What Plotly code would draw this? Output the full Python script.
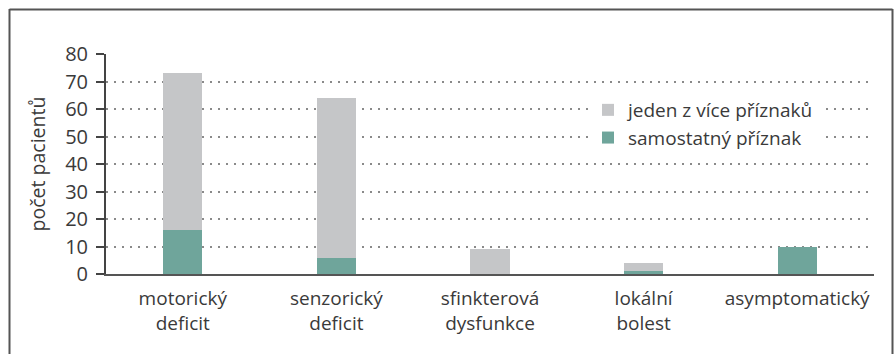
import plotly.graph_objects as go

# Data: number of patients per presenting symptom
categories = [
    "motorický<br>deficit",
    "senzorický<br>deficit",
    "sfinkterová<br>dysfunkce",
    "lokální<br>bolest",
    "asymptomatický",
]
samostatny = [16, 6, 0, 1, 10]        # symptom as the only one
jeden_z_vice = [57, 58, 9, 3, 0]      # one of several symptoms
y_ticks = [0, 10, 20, 30, 40, 50, 60, 70, 80]

GREEN = "#6fa59b"
GRAY = "#c5c6c8"
TEXT = "#3a3a3a"
FONT = "Open Sans"

fig = go.Figure()
fig.add_trace(go.Bar(
    x=categories, y=samostatny, name="samostatný příznak",
    marker=dict(color=GREEN, line=dict(width=0)), width=0.255,
))
fig.add_trace(go.Bar(
    x=categories, y=jeden_z_vice, name="jeden z více příznaků",
    marker=dict(color=GRAY, line=dict(width=0)), width=0.255,
))

# plot area in pixels: x 106..874, y 53.5..274.5
L, R, T, B = 106, 22, 54, 80
W, H = 896, 354
pw, ph = W - L - R, H - T - B


def px_x(p):
    return (p - L) / pw


def px_y(p):
    return (H - B - p) / ph


# outer frame (left, top, right edges)
frame = dict(type="line", xref="paper", yref="paper",
             line=dict(color="#555555", width=2), layer="above")
fig.add_shape(**frame, x0=px_x(9.5), x1=px_x(9.5), y0=px_y(9), y1=px_y(360))
fig.add_shape(**frame, x0=px_x(9.5), x1=px_x(892.5), y0=px_y(9.5), y1=px_y(9.5))
fig.add_shape(**frame, x0=px_x(892.5), x1=px_x(892.5), y0=px_y(9), y1=px_y(360))

fig.update_layout(
    width=W, height=H,
    margin=dict(l=L, r=R, t=T, b=B, pad=0),
    barmode="stack",
    bargap=0,
    plot_bgcolor="white",
    paper_bgcolor="white",
    font=dict(family=FONT, size=19, color=TEXT),
    showlegend=True,
    legend=dict(
        x=px_x(588), y=px_y(91), xanchor="left", yanchor="top",
        bgcolor="white", traceorder="reversed",
        font=dict(family=FONT, size=19, color=TEXT),
        itemwidth=30, tracegroupgap=0,
    ),
    xaxis=dict(
        range=[-0.5, 4.5],
        showline=True, linecolor="#555555", linewidth=2,
        ticks="", showgrid=False,
        ticklabelstandoff=6,
        tickfont=dict(family=FONT, size=19, color=TEXT),
    ),
    yaxis=dict(
        range=[0, 80], tickvals=y_ticks,
        showline=True, linecolor="#444444", linewidth=2,
        ticks="outside", ticklen=8, tickwidth=2, tickcolor="#444444",
        ticklabelstandoff=4,
        showgrid=True, gridcolor="#8a8a8a", gridwidth=2,
        griddash="2px,6px",
        zeroline=False,
        tickfont=dict(family=FONT, size=20, color=TEXT),
        title=dict(text="počet pacientů", standoff=14,
                   font=dict(family=FONT, size=19.5, color=TEXT)),
    ),
)

fig.write_html("out.html")
